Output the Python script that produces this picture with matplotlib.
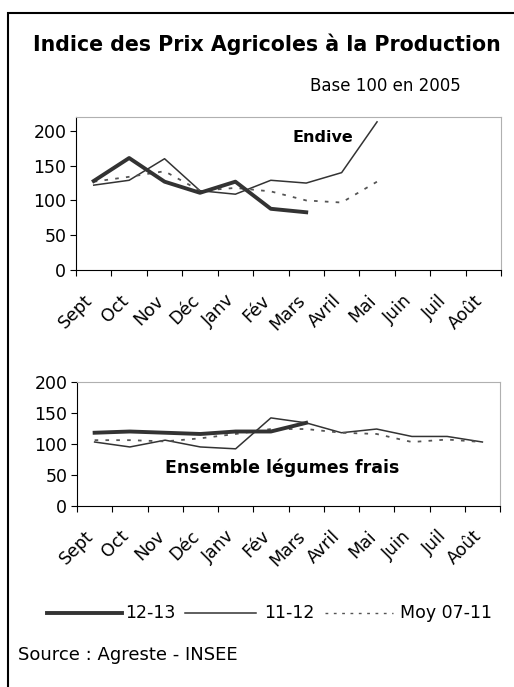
import numpy as np
from matplotlib import pyplot as plt
from matplotlib.patches import Rectangle
from matplotlib.transforms import ScaledTranslation

plt.rcParams['font.family'] = ['DejaVu Sans']

months = ['Sept', 'Oct', 'Nov', 'Déc', 'Janv', 'Fév', 'Mars', 'Avril',
          'Mai', 'Juin', 'Juil', 'Août']

# Endive
endive_1213 = [128, 161, 127, 111, 127, 88, 83]
endive_1112 = [122, 129, 160, 114, 109, 129, 125, 140, 213]
endive_moy = [127, 134, 142, 114, 118, 113, 100, 97, 127]

# Ensemble légumes frais
legumes_1213 = [118, 120, 118, 116, 120, 120, 134]
legumes_1112 = [103, 95, 106, 95, 92, 142, 134, 118, 124, 112, 112, 103]
legumes_moy = [106, 106, 104, 109, 116, 124, 124, 118, 116, 103, 107, 103]

line_color = '#333333'
fs = 12.5

fig = plt.figure(figsize=(5.14, 6.87), dpi=100)
shift = ScaledTranslation(-10 / 100, -9 / 100, fig.dpi_scale_trans)


def draw_panel(ax, s1, s2, s3, ymax):
    ax.plot(np.arange(len(s2)), s2, color=line_color, lw=1.1)
    ax.plot(np.arange(len(s3)), s3, color='#555555', lw=1.3, ls=(0, (2, 4)))
    ax.plot(np.arange(len(s1)), s1, color=line_color, lw=2.8)
    ax.set_xlim(-0.5, 11.5)
    ax.set_ylim(0, ymax)
    ax.set_yticks([0, 50, 100, 150, 200])
    ax.set_xticks(np.arange(-0.5, 12, 1))
    ax.set_xticklabels([])
    ax.tick_params(axis='x', which='minor', length=0, pad=9)
    ax.tick_params(axis='x', which='major', length=4, width=0.8)
    ax.tick_params(axis='y', length=4, width=0.8, labelsize=fs, pad=3)
    ax.set_xticks(np.arange(12), minor=True)
    ax.set_xticklabels(months, minor=True, rotation=45, ha='right',
                       rotation_mode='anchor', fontsize=fs)
    for tick in ax.xaxis.get_minor_ticks():
        tick.label1.set_transform(tick.label1.get_transform() + shift)
    for s in ['top', 'right']:
        ax.spines[s].set_color('#b0b0b0')
    for s in ['left', 'bottom']:
        ax.spines[s].set_linewidth(0.8)


ax1 = fig.add_axes([0.1479, 0.607, 0.8268, 0.2227])
draw_panel(ax1, endive_1213, endive_1112, endive_moy, 220)
ax1.text(293 / 514, 1 - 138 / 687, 'Endive', transform=fig.transFigure,
         fontsize=11.5, fontweight='bold', ha='left', va='center')

ax2 = fig.add_axes([0.1498, 0.2639, 0.8230, 0.1800])
draw_panel(ax2, legumes_1213, legumes_1112, legumes_moy, 200)
ax2.text(282 / 514, 1 - 468 / 687, 'Ensemble légumes frais',
         transform=fig.transFigure, fontsize=12.5, fontweight='bold',
         ha='center', va='center')

fig.text(267 / 514, 1 - 44 / 687, 'Indice des Prix Agricoles à la Production',
         fontsize=14.8, fontweight='bold', ha='center', va='center')
fig.text(310 / 514, 1 - 86 / 687, 'Base 100 en 2005', fontsize=12,
         ha='left', va='center')

# legend drawn by hand along one row
ly = 1 - 613 / 687
fig.add_artist(plt.Line2D([47 / 514, 122 / 514], [ly, ly], color=line_color, lw=2.8))
fig.text(125 / 514, ly, '12-13', fontsize=fs, va='center')
fig.add_artist(plt.Line2D([185 / 514, 256 / 514], [ly, ly], color=line_color, lw=1.1))
fig.text(264 / 514, ly, '11-12', fontsize=fs, va='center')
fig.add_artist(plt.Line2D([325 / 514, 393 / 514], [ly, ly], color='#555555',
                          lw=1.0, ls=(0, (2, 4))))
fig.text(400 / 514, ly, 'Moy 07-11', fontsize=fs, va='center')

fig.text(18 / 514, 1 - 655 / 687, 'Source : Agreste - INSEE', fontsize=13,
         va='center')

fig.add_artist(Rectangle((8 / 514, -0.05), 1.2, 1 - 13 / 687 + 0.05,
                         transform=fig.transFigure, fill=False,
                         edgecolor='black', lw=1.5))

fig.savefig('out.png', dpi=100)
